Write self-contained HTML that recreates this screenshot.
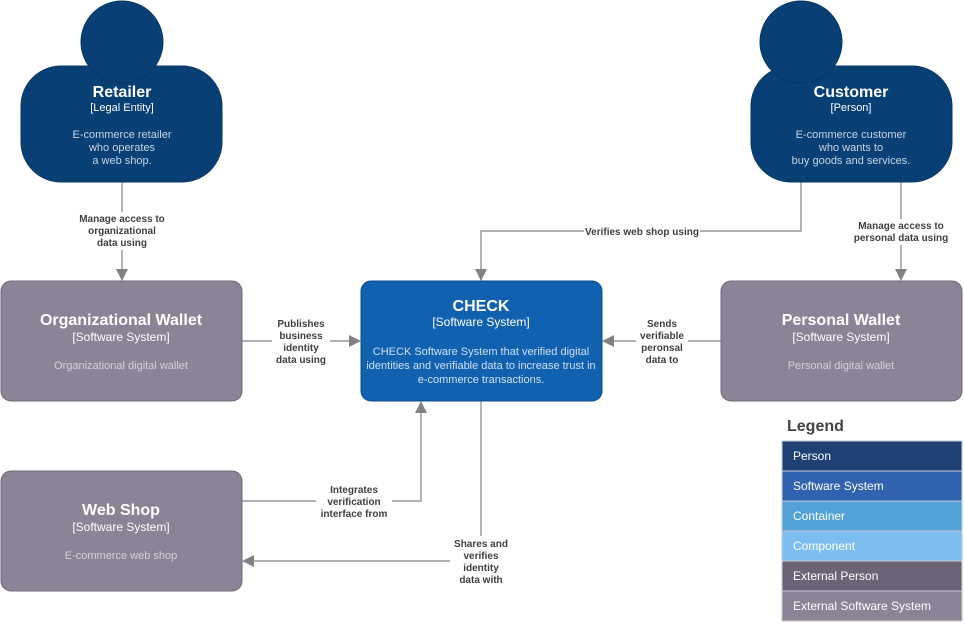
<!DOCTYPE html>
<html><head><meta charset="utf-8"><style>
body{margin:0;background:#fff;}
svg{display:block;font-family:"Liberation Sans",sans-serif;}
</style></head><body>
<svg width="964" height="624" viewBox="0 0 964 624" xmlns="http://www.w3.org/2000/svg">
<defs><marker id="a" markerWidth="12" markerHeight="16" refX="11" refY="6" orient="auto" markerUnits="userSpaceOnUse"><path d="M0,0 L12,6 L0,12 Z" fill="#828282"/></marker></defs>
<g stroke="#828282" stroke-width="1.2" fill="none">
<path d="M122,182 V280" marker-end="url(#a)"/>
<path d="M901,182 V280" marker-end="url(#a)"/>
<path d="M801,182 V231 H481 V280" marker-end="url(#a)"/>
<path d="M242,341 H360" marker-end="url(#a)"/>
<path d="M721,341 H603" marker-end="url(#a)"/>
<path d="M242,501 H421 V402" marker-end="url(#a)"/>
<path d="M481,401 V561 H243" marker-end="url(#a)"/>
</g>
<!-- persons -->
<g fill="#083f75" stroke="#073764">
<rect x="21" y="66" width="201" height="116" rx="40"/>
<circle cx="122" cy="42" r="41"/>
<rect x="751" y="66" width="201" height="116" rx="40"/>
<circle cx="801" cy="42" r="41"/>
</g>
<g fill="#fff" text-anchor="middle">
<text x="122" y="97" font-size="16" font-weight="bold">Retailer</text>
<text x="122" y="111" font-size="11">[Legal Entity]</text>
<text x="122" y="138" font-size="11" fill="#c8d4e4">E-commerce retailer</text>
<text x="122" y="151" font-size="11" fill="#c8d4e4">who operates</text>
<text x="122" y="164" font-size="11" fill="#c8d4e4">a web shop.</text>
<text x="851" y="97" font-size="16" font-weight="bold">Customer</text>
<text x="851" y="111" font-size="11">[Person]</text>
<text x="851" y="138" font-size="11" fill="#c8d4e4">E-commerce customer</text>
<text x="851" y="151" font-size="11" fill="#c8d4e4">who wants to</text>
<text x="851" y="164" font-size="11" fill="#c8d4e4">buy goods and services.</text>
</g>
<!-- systems -->
<rect x="1" y="281" width="241" height="120" rx="10" fill="#8b8496" stroke="#6f6878"/>
<rect x="721" y="281" width="241" height="120" rx="10" fill="#8b8496" stroke="#6f6878"/>
<rect x="1" y="471" width="241" height="120" rx="10" fill="#8b8496" stroke="#6f6878"/>
<rect x="361" y="281" width="241" height="120" rx="10" fill="#1061b0" stroke="#0d4d8c"/>
<g fill="#fff" text-anchor="middle">
<text x="121" y="325" font-size="16" font-weight="bold">Organizational Wallet</text>
<text x="121" y="341" font-size="12">[Software System]</text>
<text x="121" y="369" font-size="11" fill="#d5d1da">Organizational digital wallet</text>
<text x="841" y="325" font-size="16" font-weight="bold">Personal Wallet</text>
<text x="841" y="341" font-size="12">[Software System]</text>
<text x="841" y="369" font-size="11" fill="#d5d1da">Personal digital wallet</text>
<text x="121" y="515" font-size="16" font-weight="bold">Web Shop</text>
<text x="121" y="531" font-size="12">[Software System]</text>
<text x="121" y="559" font-size="11" fill="#d5d1da">E-commerce web shop</text>
<text x="481" y="311" font-size="16" font-weight="bold">CHECK</text>
<text x="481" y="326" font-size="12">[Software System]</text>
<text x="481" y="355" font-size="11" fill="#d0e0f2">CHECK Software System that verified digital</text>
<text x="481" y="369" font-size="11" fill="#d0e0f2">identities and verifiable data to increase trust in</text>
<text x="481" y="383" font-size="11" fill="#d0e0f2">e-commerce transactions.</text>
</g>
<!-- labels -->
<g font-size="10" font-weight="bold" fill="#404040" text-anchor="middle">
<rect x="76" y="212" width="92" height="38" fill="#fff"/>
<text x="122" y="222">Manage access to</text><text x="122" y="234">organizational</text><text x="122" y="246">data using</text>
<rect x="852" y="219" width="98" height="26" fill="#fff"/>
<text x="901" y="229">Manage access to</text><text x="901" y="241">personal data using</text>
<rect x="584" y="225" width="116" height="13" fill="#fff"/>
<text x="642" y="235">Verifies web shop using</text>
<rect x="272" y="316" width="58" height="50" fill="#fff"/>
<text x="301" y="327">Publishes</text><text x="301" y="339">business</text><text x="301" y="351">identity</text><text x="301" y="363">data using</text>
<rect x="636" y="316" width="52" height="50" fill="#fff"/>
<text x="662" y="327">Sends</text><text x="662" y="339">verifiable</text><text x="662" y="351">peronsal</text><text x="662" y="363">data to</text>
<rect x="316" y="482" width="76" height="38" fill="#fff"/>
<text x="354" y="493">Integrates</text><text x="354" y="505">verification</text><text x="354" y="517">interface from</text>
<rect x="450" y="536" width="62" height="50" fill="#fff"/>
<text x="481" y="547">Shares and</text><text x="481" y="559">verifies</text><text x="481" y="571">identity</text><text x="481" y="583">data with</text>
</g>
<!-- legend -->
<text x="787" y="431" font-size="16" font-weight="bold" fill="#444">Legend</text>
<g stroke="#c8c8d0" stroke-width="1">
<rect x="782" y="441" width="180" height="30" fill="#1e4074"/>
<rect x="782" y="471" width="180" height="30" fill="#3162af"/>
<rect x="782" y="501" width="180" height="30" fill="#52a2d8"/>
<rect x="782" y="531" width="180" height="30" fill="#7dbef2"/>
<rect x="782" y="561" width="180" height="30" fill="#6b6477"/>
<rect x="782" y="591" width="180" height="30" fill="#8b8496"/>
</g>
<g font-size="12" fill="#fff">
<text x="793" y="460">Person</text>
<text x="793" y="490">Software System</text>
<text x="793" y="520">Container</text>
<text x="793" y="550">Component</text>
<text x="793" y="580">External Person</text>
<text x="793" y="610">External Software System</text>
</g>
</svg>
</body></html>
